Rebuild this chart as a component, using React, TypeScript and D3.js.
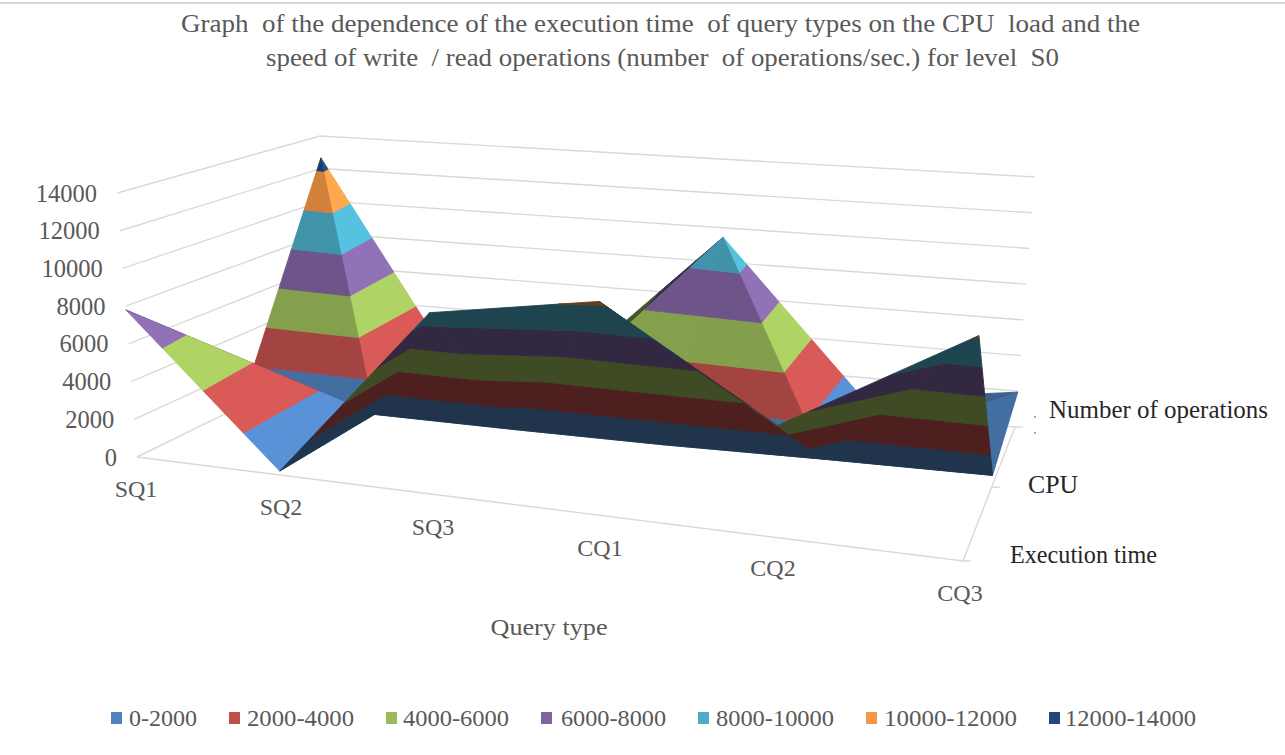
import React from "react";
import * as d3 from "d3";

const categories = ["SQ1", "SQ2", "SQ3", "CQ1", "CQ2", "CQ3"];
const rowNames = ["Execution time", "CPU", "Number of operations"];
const executionTime = [7800, 200, 9050, 10300, 5200, 10150];
const cpuLoad = [200, 300, 300, 350, 500, 600];
const operations = [12650, 700, 1650, 9450, 800, 1950];
const valueTicks = [0, 2000, 4000, 6000, 8000, 10000, 12000, 14000];
const bandNames = ["0-2000", "2000-4000", "4000-6000", "6000-8000", "8000-10000", "10000-12000", "12000-14000"];
const bandColors = ["#4F81BD", "#C0504D", "#9BBB59", "#8064A2", "#4BACC6", "#F79646", "#1F497D"];
const titleLines = [
  "Graph  of the dependence of the execution time  of query types on the CPU  load and the",
  "speed of write  / read operations (number  of operations/sec.) for level  S0",
];

type P = [number, number];
type V = { c: number; r: number; val: number };

const floorFL: P = [137, 457], floorFR: P = [963, 561], floorBL: P = [329, 363], floorBR: P = [1015, 427];
const topFL: P = [117, 193], topFR: P = [985, 250], topBL: P = [320, 136], topBR: P = [1035, 177];

const uScale = d3.scalePoint<number>().domain(categories.map((_, i) => i)).range([0, 1]);
const vScale = d3.scalePoint<number>().domain(rowNames.map((_, i) => i)).range([0, 1]);
const zScale = d3.scaleLinear().domain([0, 14000]).range([0, 1]);

const persp = (x: number, k: number) => x / (x + k * (1 - x));
const lerp = (a: P, b: P, t: number): P => [a[0] + (b[0] - a[0]) * t, a[1] + (b[1] - a[1]) * t];
const bilin = (fl: P, fr: P, bl: P, br: P, t: number, s: number) => lerp(lerp(fl, fr, t), lerp(bl, br, t), s);

function projectUV(u: number, v: number, h: number): P {
  const s = persp(v, 0.818);
  const t = persp(u, 1.195 - 0.05 * s);
  return lerp(bilin(floorFL, floorFR, floorBL, floorBR, t, s), bilin(topFL, topFR, topBL, topBR, t, s), h);
}
const project = (v: V): P => projectUV(uScale(v.c)!, vScale(v.r)!, zScale(v.val));
const projectFloor = (v: V): P => projectUV(uScale(v.c)!, vScale(v.r)!, 0);

const area = (a: P, b: P, c: P) => (b[0] - a[0]) * (c[1] - a[1]) - (b[1] - a[1]) * (c[0] - a[0]);

function shadeOf(tri: V[]): number {
  const [a, b, c] = tri;
  const up = area(project(a), project(b), project(c)) * area(projectFloor(a), projectFloor(b), projectFloor(c)) > 0;
  if (!up) return 0.4;
  const w = (v: V) => [uScale(v.c)!, vScale(v.r)! * 0.6, zScale(v.val) * 0.6];
  const [p, q, s] = [w(a), w(b), w(c)];
  const e1 = [q[0] - p[0], q[1] - p[1], q[2] - p[2]];
  const e2 = [s[0] - p[0], s[1] - p[1], s[2] - p[2]];
  let n = [e1[1] * e2[2] - e1[2] * e2[1], e1[2] * e2[0] - e1[0] * e2[2], e1[0] * e2[1] - e1[1] * e2[0]];
  if (n[2] < 0) n = n.map((x) => -x);
  const nu = n[0] / Math.hypot(n[0], n[1], n[2]);
  return Math.max(0.45, Math.min(1.13, 0.86 + 0.5 * nu));
}

function clipBand(pts: { p: P; val: number }[], lo: number, hi: number) {
  const clip = (poly: { p: P; val: number }[], limit: number, keepAbove: boolean) => {
    const out: { p: P; val: number }[] = [];
    poly.forEach((cur, i) => {
      const nxt = poly[(i + 1) % poly.length];
      const inCur = keepAbove ? cur.val >= limit : cur.val <= limit;
      const inNxt = keepAbove ? nxt.val >= limit : nxt.val <= limit;
      if (inCur) out.push(cur);
      if (inCur !== inNxt) {
        out.push({ p: lerp(cur.p, nxt.p, (limit - cur.val) / (nxt.val - cur.val)), val: limit });
      }
    });
    return out;
  };
  return clip(clip(pts, lo, true), hi, false);
}

function triangles(): V[][] {
  const rows = [executionTime, cpuLoad, operations];
  const out: V[][] = [];
  for (const back of [2, 1]) {
    const front = back - 1;
    for (let i = 0; i < categories.length - 1; i++) {
      const a: V = { c: i, r: back, val: rows[back][i] };
      const b: V = { c: i + 1, r: back, val: rows[back][i + 1] };
      const c: V = { c: i + 1, r: front, val: rows[front][i + 1] };
      const d: V = { c: i, r: front, val: rows[front][i] };
      const top = Math.max(a.val, b.val, c.val, d.val);
      if (a.val === top || c.val === top) out.push([a, b, c], [a, c, d]);
      else out.push([a, b, d], [b, c, d]);
    }
  }
  return out;
}

const line = d3.line<P>();
const grid = "#d9d9d9";
const serif = "'Liberation Serif', 'Times New Roman', serif";

const categoryLabels: [number, number][] = [[136, 489], [281, 507], [433, 527], [600, 548], [773, 568], [960, 593]];
const rowLabels: [string, number, number, number][] = [
  ["Execution time", 1010, 554, 147],
  ["CPU", 1028, 484, 50],
  ["Number of operations", 1049, 409, 219],
];
const legendX: [number, number, number][] = [
  [111, 129, 197], [229, 247, 354], [386, 403, 509], [541, 561, 666], [698, 716, 834], [866, 884, 1017], [1049, 1065, 1196],
];

export default function App() {
  const polys: { d: string; fill: string }[] = [];
  for (const tri of triangles()) {
    const shade = shadeOf(tri);
    const pts = tri.map((v) => ({ p: project(v), val: v.val }));
    bandColors.forEach((col, b) => {
      const clipped = clipBand(pts, b * 2000, (b + 1) * 2000);
      if (clipped.length < 3) return;
      const c = d3.rgb(col);
      const fill = d3.rgb(c.r * shade, c.g * shade, c.b * shade).formatHex();
      polys.push({ d: line(clipped.map((q) => q.p))! + "Z", fill });
    });
  }
  return (
    <svg width={1285} height={755} viewBox="0 0 1285 755" style={{ position: "absolute", left: 0, top: 0, background: "#fff", fontFamily: serif }}>
      <rect x={0} y={2} width={1285} height={2} fill="#d6d6d6" />
      {valueTicks.map((t) => {
        const h = zScale(t);
        const fl = projectUV(0, 0, h), bl = projectUV(0, 1, h), br = projectUV(1, 1, h);
        return (
          <g key={t}>
            <path d={line([fl, bl, br])!} fill="none" stroke={grid} strokeWidth={1.4} />
            <text x={fl[0] - 20} y={fl[1]} dy="0.35em" textAnchor="end" fontSize={24.5} fill="#595959">{t}</text>
          </g>
        );
      })}
      <path d={line([projectUV(0, 0, 0), projectUV(1, 0, 0), projectUV(1, 1, 0)])!} fill="none" stroke={grid} strokeWidth={1.4} />
      {rowNames.map((_, i) => {
        const p = projectUV(1, vScale(i)!, 0);
        return <path key={i} d={line([p, [p[0] + 8, p[1]]])!} stroke={grid} strokeWidth={1.4} />;
      })}
      {polys.map((q, i) => (
        <path key={i} d={q.d} fill={q.fill} stroke={q.fill} strokeWidth={0.9} strokeLinejoin="round" />
      ))}
      {titleLines.map((t, i) => (
        <text key={i} x={i === 0 ? 181 : 266} y={i === 0 ? 32 : 66} fontSize={26} fill="#595959" textLength={i === 0 ? 959 : 793} lengthAdjust="spacingAndGlyphs" style={{ whiteSpace: "pre" }}>{t}</text>
      ))}
      {categories.map((c, i) => (
        <text key={c} x={categoryLabels[i][0]} y={categoryLabels[i][1]} dy="0.35em" textAnchor="middle" fontSize={24} fill="#595959">{c}</text>
      ))}
      <text x={549} y={627} dy="0.35em" textAnchor="middle" fontSize={24} fill="#595959" textLength={117} lengthAdjust="spacingAndGlyphs">Query type</text>
      {rowLabels.map(([t, x, y, w]) => (
        <text key={t} x={x} y={y} dy="0.35em" fontSize={25} fill="#262626" textLength={w} lengthAdjust="spacingAndGlyphs">{t}</text>
      ))}
      <circle cx={1035} cy={417} r={0.9} fill="#888" />
      <circle cx={1035} cy={433} r={0.9} fill="#888" />
      {bandNames.map((n, i) => (
        <g key={n}>
          <rect x={legendX[i][0]} y={712} width={11} height={12} fill={bandColors[i]} />
          <text x={legendX[i][1]} y={718} dy="0.35em" fontSize={24} fill="#595959" textLength={legendX[i][2] - legendX[i][1]} lengthAdjust="spacingAndGlyphs">{n}</text>
        </g>
      ))}
    </svg>
  );
}
